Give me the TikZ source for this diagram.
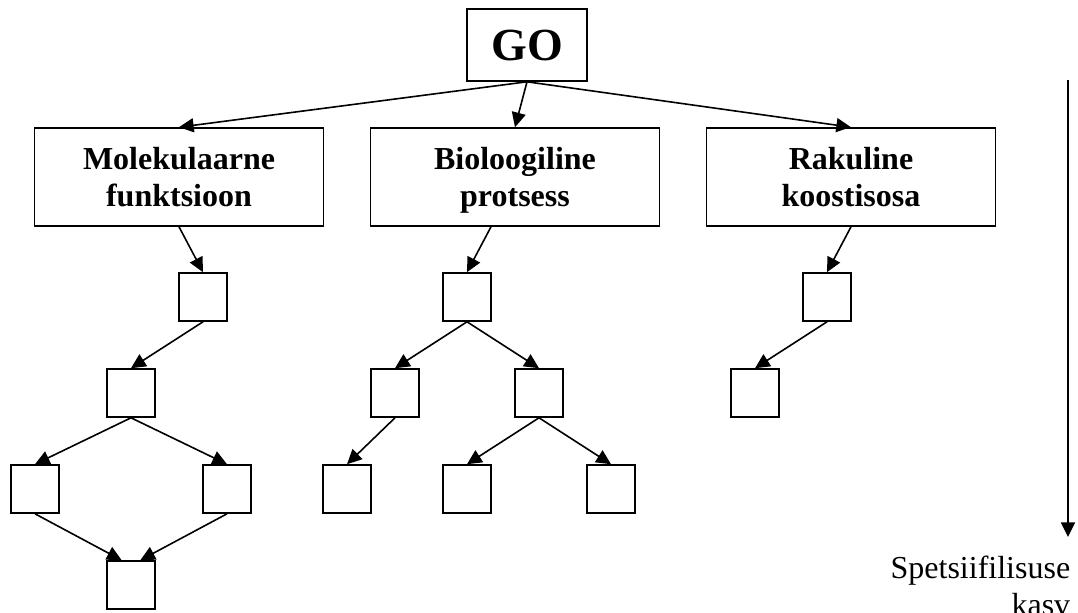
\documentclass[tikz,border=0pt]{standalone}
\usepackage{fontspec}
\setmainfont{Liberation Serif}
\usetikzlibrary{arrows.meta, positioning}

\begin{document}
\begin{tikzpicture}[x=0.75pt,y=-0.75pt,->,>={Triangle[length=11pt,width=10.5pt]},line width=1.2pt,on grid,
	root node/.style={rectangle,draw,font=\fontsize{34.5}{40}\selectfont\bfseries,minimum width=90pt,minimum height=54pt,inner sep=0pt},
	main node/.style={rectangle,draw,font=\fontsize{24}{27.75}\selectfont\bfseries,align=center,text depth=0pt,minimum width=216.75pt,minimum height=73.5pt,inner sep=0pt},
	leaf node/.style={rectangle,draw,minimum size=36pt,inner sep=0pt}]
				\useasboundingbox (0,0) rectangle (1078,613);
				
				% Juur ja kolm põhiharu
				\node[root node] (go) at (527,45) {GO};
				\node[main node] (bio) at (515,177) {Bioloogiline\\protsess};
				\node[main node] (mol) [left=252pt of bio] {Molekulaarne\\funktsioon};
				\node[main node] (rak) [right=252pt of bio] {Rakuline\\koostisosa};
				
				% Alamterminid
				\node[leaf node] (m1) [below right=90pt and 18pt of mol] {};
				\node[leaf node] (m2) [below left=72pt and 54pt of m1] {};
				\node[leaf node] (m3) [below left=72pt and 72pt of m2] {};
				\node[leaf node] (m4) [below right=72pt and 72pt of m2] {};
				\node[leaf node] (m5) [below right=72pt and 72pt of m3] {};
				\node[leaf node] (b1) [below left=90pt and 36pt of bio] {};
				\node[leaf node] (b2) [below left=72pt and 54pt of b1] {};
				\node[leaf node] (b3) [below right=72pt and 54pt of b1] {};
				\node[leaf node] (b4) [below left=72pt and 36pt of b2] {};
				\node[leaf node] (b5) [below left=72pt and 54pt of b3] {};
				\node[leaf node] (b6) [below right=72pt and 54pt of b3] {};
				\node[leaf node] (r1) [below left=90pt and 18pt of rak] {};
				\node[leaf node] (r2) [below left=72pt and 54pt of r1] {};
				
				% Seosed
				\path
				(go.south) edge (mol.north)
				(go.south) edge (bio.north)
				(go.south) edge (rak.north)
				(mol.south) edge (m1.north)
				([xshift=-18pt]bio.south) edge (b1.north)
				(rak.south) edge (r1.north);
				\path
				(m1.south) edge (m2.north)
				(m2.south) edge (m3.north)
				(m2.south) edge (m4.north)
				(m3.south) edge ([xshift=-7pt]m5.north)
				(m4.south) edge ([xshift=7pt]m5.north)
				(b1.south) edge (b2.north)
				(b1.south) edge (b3.north)
				(b2.south) edge (b4.north)
				(b3.south) edge (b5.north)
				(b3.south) edge (b6.north)
				(r1.south) edge (r2.north);
				
				% Spetsiifilisuse nool
				\node[anchor=north east,align=right,inner sep=0pt,font=\fontsize{24}{27.75}\selectfont] (spec) at (1071,555) {Spetsiifilisuse\\kasv};
				\coordinate (spectop) at (1068,80);
				\draw[shorten >=13.5pt] (spectop) -- (spectop |- spec.north);
			\end{tikzpicture}
\end{document}
